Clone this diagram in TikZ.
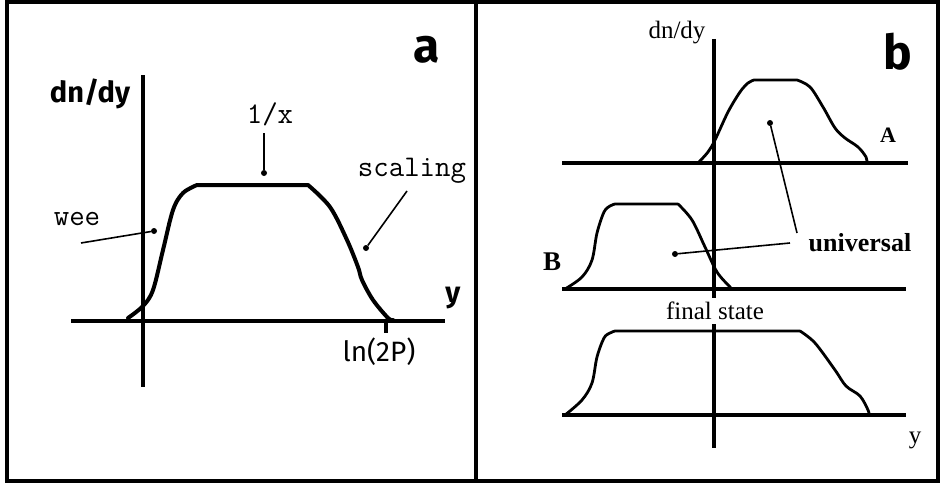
\documentclass[tikz,border=0pt]{standalone}
\usepackage{fontspec}
\setmainfont{Liberation Serif}
\setsansfont{Fira Sans}
\tikzset{
    frame/.style={draw=black, line width=3.5pt},
    axis/.style={line width=4pt},
    axisb/.style={line width=3.5pt},
    curve/.style={line width=4pt, line join=round, line cap=round},
    curveb/.style={line width=2.8pt, line join=round, line cap=round},
    pointer/.style={line width=1.6pt},
    dot/.style={circle, fill=black, inner sep=0pt, minimum size=6pt},
    ttlabel/.style={inner sep=0pt, font=\fontsize{30}{30}\selectfont\ttfamily},
    sslabel/.style={inner sep=0pt, font=\fontsize{28}{28}\selectfont\sffamily},
    ssbold/.style={inner sep=0pt, font=\fontsize{29}{29}\selectfont\sffamily\bfseries},
    rmlabel/.style={inner sep=0pt, font=\fontsize{25}{25}\selectfont\rmfamily},
    rmbold/.style={inner sep=0pt, font=\fontsize{26}{26}\selectfont\rmfamily\bfseries},
    panelname/.style={inner sep=0pt, font=\fontsize{48}{48}\selectfont\sffamily\bfseries}
}
\begin{document}
\begin{tikzpicture}[x=1pt, y=-1pt]
\useasboundingbox (0,0) rectangle (941,487);

% Frame
\draw[frame] (7,2) rectangle (938,481);
\draw[frame] (476,2) -- (476,481);

% Panel a: axes
\draw[axis] (143,75) -- (143,387);
\draw[axis] (71,321) -- (445,321);
\draw[axis] (386,321) -- (386,333);

% Panel a: distribution
\draw[curve] plot[smooth, tension=0.55] coordinates {
    (128,318) (143,306) (153,290) (163,250) (173,210) (183,193) (197,185)}
    -- (308,185)
    plot[smooth, tension=0.55] coordinates {
    (308,185) (330,207) (347,240) (358,267) (362,280) (373,300) (388,318) (393,320)};

% Panel a: labels
\node[panelname] (namea) at (427,50) {a};
\node[ssbold] (dndya) at (90,94) {dn/dy};
\node[ssbold] (ya) at (453,298) {y};
\node[sslabel] (ln2p) at (379,352) {ln(2P)};
\node[ttlabel] (onex) at (270,114) {1/x};
\node[ttlabel] (wee) at (77,219) {wee};
\node[ttlabel] (scaling) at (412,171) {scaling};

% Panel a: pointers
\node[dot] (dotonex) at (264,173) {};
\node[dot] (dotwee) at (154,231) {};
\node[dot] (dotscaling) at (366,248) {};
\coordinate (onexend) at (264,133);
\coordinate (weeend) at (81,243);
\coordinate (scalingend) at (407,191);
\draw[pointer] (onexend) -- (dotonex);
\draw[pointer] (weeend) -- (dotwee);
\draw[pointer] (scalingend) -- (dotscaling);

% Panel b: axes
\draw[axisb] (714,39) -- (714,448);
\draw[axisb] (562,163) -- (908,163);
\draw[axisb] (562,289) -- (906,289);
\draw[axisb] (562,415) -- (906,415);

% Panel b: distributions
\draw[curveb] plot[smooth, tension=0.55] coordinates {
    (698,163) (708,152) (715,140) (728,112) (740,92) (748,83) (754,80)}
    -- (797,80)
    plot[smooth, tension=0.55] coordinates {
    (797,80) (810,87) (823,107) (835,128) (845,138) (858,147) (866,157) (867,163)};
\draw[curveb] plot[smooth, tension=0.55] coordinates {
    (565,289) (582,277) (592,260) (597,233) (604,212) (610,206) (615,204)}
    -- (678,204)
    plot[smooth, tension=0.55] coordinates {
    (678,204) (692,220) (705,247) (717,272) (730,287) (732,289)};
\draw[curveb] plot[smooth, tension=0.55] coordinates {
    (565,415) (582,400) (592,383) (597,357) (604,338) (610,333) (615,331)}
    -- (800,331)
    plot[smooth, tension=0.55] coordinates {
    (800,331) (815,343) (835,370) (846,386) (860,396) (868,410) (869,415)};

% Panel b: labels
\node[panelname] (nameb) at (898,52) {b};
\node[rmlabel] (dndyb) at (677,33) {dn/dy};
\node[rmlabel] (yb) at (915,440) {y};
\node[rmbold, font=\fontsize{22}{22}\selectfont\rmfamily\bfseries] (labelA) at (888,135) {A};
\node[rmbold, font=\fontsize{27}{27}\selectfont\rmfamily\bfseries] (labelB) at (552,262) {B};
\node[rmbold] (universal) at (860,243) {universal};
\node[rmlabel, fill=white, inner xsep=1pt, inner ysep=4pt] (final) at (715,311) {final state};

% Panel b: pointers
\node[dot] (dotA) at (770,123) {};
\node[dot] (dotB) at (675,254) {};
\coordinate (univendA) at (797,233);
\coordinate (univendB) at (790,243);
\draw[pointer] (univendA) -- (dotA);
\draw[pointer] (univendB) -- (dotB);

\end{tikzpicture}
\end{document}
